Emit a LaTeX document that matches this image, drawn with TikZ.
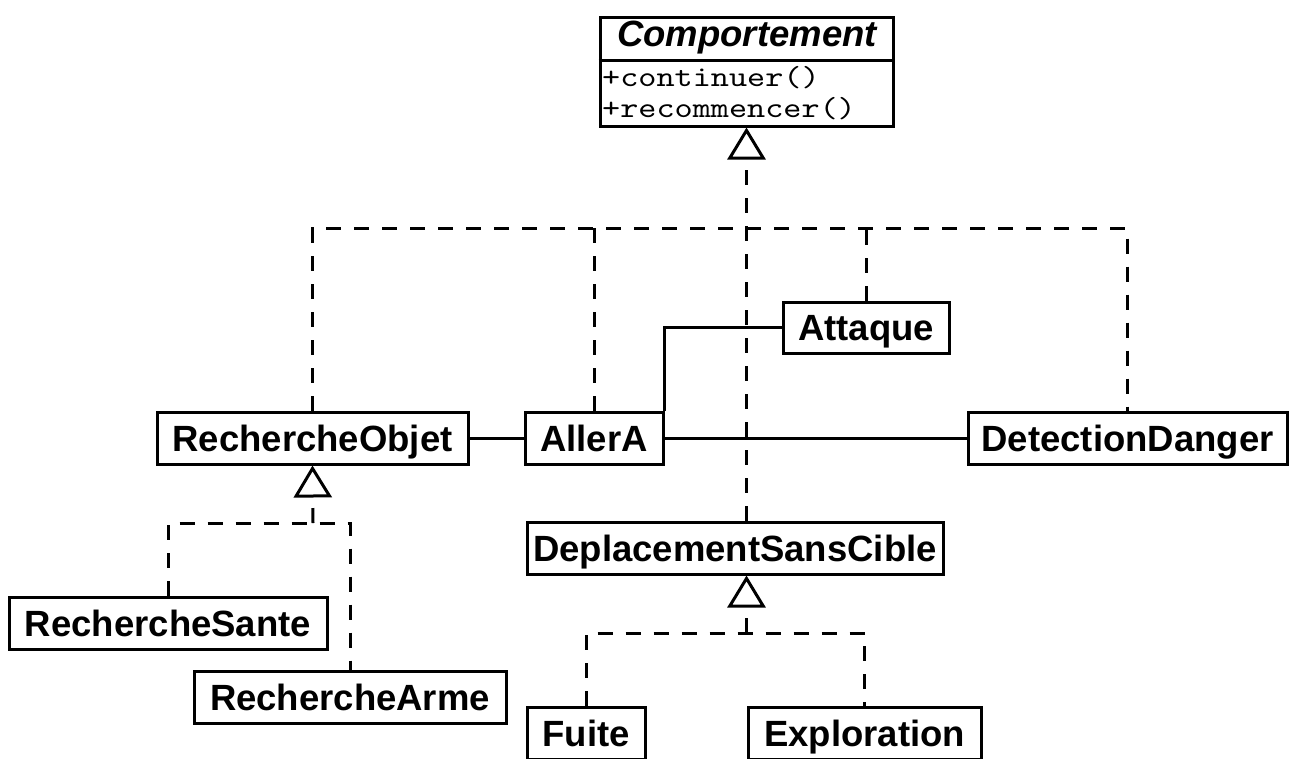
\documentclass[tikz,border=0pt]{standalone}
\usepackage{fontspec}
\setmainfont{Liberation Sans}
\newfontfamily\methfont{lmmono10-regular.otf}[FakeStretch=1.19]
\usetikzlibrary{arrows.meta}
\begin{document}
\begin{tikzpicture}[x=1pt,y=-1pt,
  cls/.style={draw, line width=3pt, inner sep=0pt, minimum height=52pt,
    text height=26pt, text depth=0pt, fill=white,
    font=\fontsize{36.5}{40}\selectfont\bfseries},
  assoc/.style={line width=3pt},
  real/.style={line width=3pt, dash pattern=on 15pt off 13pt},
  gentip/.style={-{Triangle[open,length=32pt,width=38pt,line width=3pt]}},
  meth/.style={anchor=base west, inner sep=0pt, text height=21pt, text depth=6pt,
    font=\fontsize{29}{31}\methfont}]
\useasboundingbox (0,0) rectangle (1293,758);
\clip (0,0) rectangle (1293,758);

% top class
\node[draw, line width=3pt, inner sep=0pt, minimum width=293pt, minimum height=109pt, fill=white] (comp) at (746.5,71.5) {};
\coordinate (sep) at (0,60);
\draw[line width=3pt] (comp.west |- sep) -- (comp.east |- sep);
\node[anchor=base, inner sep=0pt, font=\fontsize{36.5}{40}\selectfont\bfseries\itshape] (ctitle) at (747,46) {Comportement};
\node[meth] (m1) at (602,86) {+continuer()};
\node[meth] (m2) at (602,117) {+recommencer()};

% classes
\node[cls, minimum width=311pt] (robj) at (312.5,438) {RechercheObjet};
\node[cls, minimum width=138pt] (aller) at (594,438) {AllerA};
\node[cls, minimum width=319pt] (dd) at (1127.5,438.5) {DetectionDanger};
\node[cls, minimum width=166pt, minimum height=51pt] (att) at (866,327.5) {Attaque};
\node[cls, minimum width=416pt] (dep) at (735,548) {DeplacementSansCible};
\node[cls, minimum width=318pt] (rsante) at (168,623) {RechercheSante};
\node[cls, minimum width=312pt] (rarme) at (350,697) {RechercheArme};
\node[cls, minimum width=118pt] (fuite) at (586,733) {Fuite};
\node[cls, minimum width=233pt] (expl) at (864.5,733) {Exploration};

% bus coordinates
\coordinate (busA) at (746.5,228);
\coordinate (busB) at (313,523);
\coordinate (busC) at (746.5,633);

% realization to Comportement
\draw[real] (robj.north) |- (dd.north |- busA) -- (dd.north);
\draw[real] (aller.north) -- (aller.north |- busA);
\draw[real] (att.north) -- (att.north |- busA);
\draw[real, gentip] (dep.north -| comp.south) -- (comp.south);

% generalization to RechercheObjet
\draw[real] (rsante.north) |- (rarme.north |- busB) -- (rarme.north);
\draw[real, gentip] (busB) -- (robj.south);

% generalization to DeplacementSansCible
\draw[real] (fuite.north) |- (expl.north |- busC) -- (expl.north);
\draw[real, gentip] (busC) -- (dep.south -| busC);

% associations
\draw[assoc] (robj.east) -- (aller.west);
\draw[assoc] (aller.east) -- (aller.east -| dd.west);
\draw[assoc] (aller.north east) |- (att.west);
\end{tikzpicture}
\end{document}
